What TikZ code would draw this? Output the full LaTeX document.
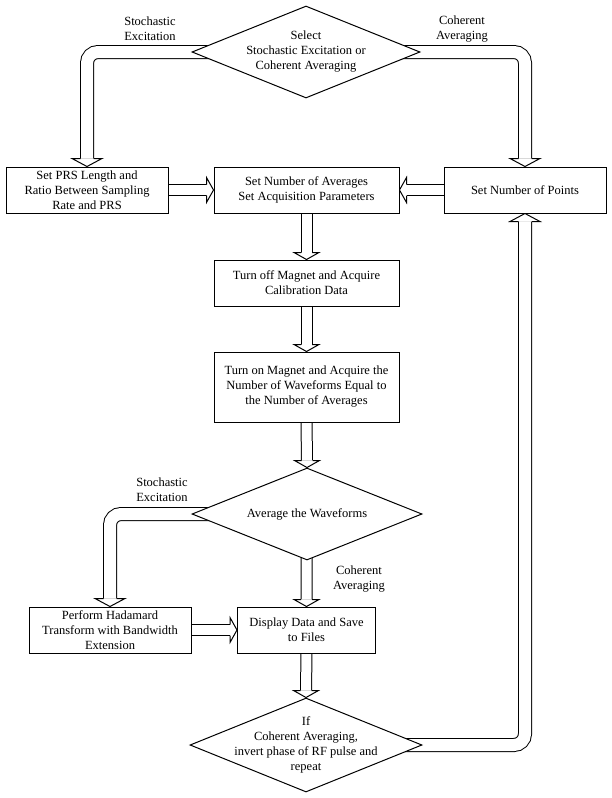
\documentclass[tikz,border=0pt]{standalone}
\usepackage{fontspec}
\setmainfont{Liberation Serif}
\usetikzlibrary{shapes.geometric,calc,backgrounds}
\tikzset{
  every node/.style={font=\fontsize{12.5}{15}\selectfont, align=center},
  box/.style={draw, line width=1pt, fill=white, inner sep=0pt, minimum height=46pt},
  dia/.style={diamond, draw, line width=1pt, fill=white, inner sep=0pt},
  lbl/.style={inner sep=0pt},
  bent/.style={draw, line width=1pt, double=white, double distance=12pt, rounded corners=11pt},
  straight/.style={draw, line width=1pt, double=white, double distance=10pt},
  head/.style={draw, fill=white, line width=1pt, line join=miter}
}
% arrow heads: #1 tip, #2 shaft half width (line centre), #3 head half width, #4 head length
\newcommand{\hdown}[4]{\filldraw[head] ($(#1)+(-#2,-#4)$) -- ($(#1)+(-#3,-#4)$) -- (#1) -- ($(#1)+(#3,-#4)$) -- ($(#1)+(#2,-#4)$);}
\newcommand{\hup}[4]{\filldraw[head] ($(#1)+(-#2,#4)$) -- ($(#1)+(-#3,#4)$) -- (#1) -- ($(#1)+(#3,#4)$) -- ($(#1)+(#2,#4)$);}
\newcommand{\hright}[4]{\filldraw[head] ($(#1)+(-#4,-#2)$) -- ($(#1)+(-#4,-#3)$) -- (#1) -- ($(#1)+(-#4,#3)$) -- ($(#1)+(-#4,#2)$);}
\newcommand{\hleft}[4]{\filldraw[head] ($(#1)+(#4,-#2)$) -- ($(#1)+(#4,-#3)$) -- (#1) -- ($(#1)+(#4,#3)$) -- ($(#1)+(#4,#2)$);}
\begin{document}
\begin{tikzpicture}[x=1pt,y=-1pt]
\useasboundingbox (0,0) rectangle (612,798);

% diamonds
\node[dia, minimum width=228pt, minimum height=92pt,
  label={[lbl]center:Select\\Stochastic Excitation or\\Coherent Averaging}] (d1) at (306,52) {};
\node[dia, minimum width=230pt, minimum height=92pt,
  label={[lbl]center:Average the Waveforms}] (d2) at (307,514) {};
\node[dia, minimum width=232pt, minimum height=94pt,
  label={[lbl]center:If\\Coherent Averaging,\\invert phase of RF pulse and\\repeat}] (d3) at (306,745) {};

% boxes
\node[box, minimum width=162pt] (prs) at (87,190) {Set PRS Length and\\Ratio Between Sampling\\Rate and PRS};
\node[box, minimum width=185pt] (avg) at (306.5,190) {Set Number of Averages\\Set Acquisition Parameters};
\node[box, minimum width=162pt] (pts) at (525,190) {Set Number of Points};
\node[box, minimum width=185pt] (cal) at (306.5,283) {Turn off Magnet and Acquire\\Calibration Data};
\node[box, minimum width=185pt, minimum height=70pt] (acq) at (306.5,387) {Turn on Magnet and Acquire the\\Number of Waveforms Equal to\\the Number of Averages};
\node[box, minimum width=162pt] (had) at (110,630) {Perform Hadamard\\Transform with Bandwidth\\Extension};
\node[box, minimum width=138pt] (disp) at (306.5,630) {Display Data and Save\\to Files};

% labels
\node[lbl] (l1) at (150,29) {Stochastic\\Excitation};
\node[lbl] (l2) at (462,29) {Coherent\\Averaging};
\node[lbl] (l3) at (162,490) {Stochastic\\Excitation};
\node[lbl] (l4) at (359,579) {Coherent\\Averaging};

\begin{pgfonlayer}{background}
% bent hollow arrows
\draw[bent] (d1.center) -| ($(prs.north)+(0,-8)$);
\hdown{prs.north}{6.5}{15}{8}
\draw[bent] (d1.center) -| ($(pts.north)+(0,-8)$);
\hdown{pts.north}{6.5}{15}{8}
\draw[bent] (d2.center) -| ($(had.north)+(0,-8)$);
\hdown{had.north}{6.5}{15}{8}
\draw[bent] (d3.center) -| ($(pts.south)+(0,8)$);
\hup{pts.south}{6.5}{15}{8}
% straight hollow arrows
\draw[straight] (prs.east) -- ($(avg.west)+(-7,0)$);
\hright{avg.west}{5.5}{12.5}{7}
\draw[straight] (pts.west) -- ($(avg.east)+(7,0)$);
\hleft{avg.east}{5.5}{12.5}{7}
\draw[straight] (avg.south) -- ($(cal.north)+(0,-7)$);
\hdown{cal.north}{5.5}{12.5}{7}
\draw[straight] (cal.south) -- ($(acq.north)+(0,-7)$);
\hdown{acq.north}{5.5}{12.5}{7}
\draw[straight] (acq.south) -- ($(d2.north)+(0,-7)$);
\hdown{d2.north}{5.5}{12.5}{7}
\draw[straight] (d2.center) -- ($(disp.north)+(0,-7)$);
\hdown{disp.north}{5.5}{12.5}{7}
\draw[straight] (had.east) -- ($(disp.west)+(-7,0)$);
\hright{disp.west}{5.5}{12.5}{7}
\draw[straight] (disp.south) -- ($(d3.north)+(0,-7)$);
\hdown{d3.north}{5.5}{12.5}{7}
\end{pgfonlayer}
\end{tikzpicture}
\end{document}
